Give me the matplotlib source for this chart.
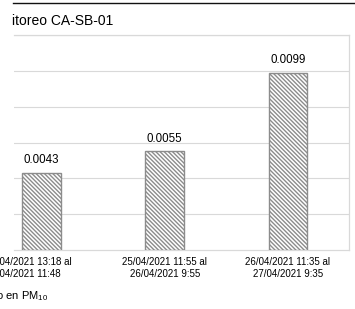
import matplotlib
matplotlib.use('Agg')
import matplotlib.pyplot as plt
from matplotlib.lines import Line2D
from matplotlib.transforms import ScaledTranslation

# data
periods = ['24/04/2021 13:18 al\n25/04/2021 11:48',
           '25/04/2021 11:55 al\n26/04/2021 9:55',
           '26/04/2021 11:35 al\n27/04/2021 9:35']
values = [0.0043, 0.0055, 0.0099]
value_labels = ['0.0043', '0.0055', '0.0099']

plt.rcParams['font.family'] = ['Liberation Sans', 'DejaVu Sans']
plt.rcParams['mathtext.fontset'] = 'custom'
plt.rcParams['mathtext.rm'] = 'Liberation Serif'
plt.rcParams['hatch.linewidth'] = 1.0

fig = plt.figure(figsize=(3.55, 3.09), dpi=100)
W, H = 355, 309
ax = fig.add_axes([14 / W, 1 - 250 / H, 335 / W, 215 / H])

x = list(range(len(values)))
bars = ax.bar(x, values, width=0.316, color='white', edgecolor='#8c8c8c',
              hatch='\\' * 8, linewidth=1.0, zorder=3)

for xi, v, lab in zip(x, values, value_labels):
    ax.annotate(lab, (xi, v), xytext=(0, 5), textcoords='offset points',
                ha='center', va='bottom', fontsize=8.3, color='#000000')

ax.set_ylim(0, 0.012)
ax.set_xlim(-0.223, 2.495)
ax.set_yticks([0.002, 0.004, 0.006, 0.008, 0.010, 0.012])
ax.yaxis.grid(True, color='#d9d9d9', linewidth=0.8, zorder=0)
ax.tick_params(axis='y', left=False, labelleft=False)
ax.set_xticks(x)
ax.set_xticklabels(periods, fontsize=7.0, linespacing=1.3)
ax.tick_params(axis='x', length=0, pad=5)
ax.spines['left'].set_visible(False)
for s in ['top', 'right', 'bottom']:
    ax.spines[s].set_color('#d9d9d9')
    ax.spines[s].set_linewidth(0.9)

# first label is pushed left and left-aligned in the reference
lbl0 = ax.get_xticklabels()[0]
lbl0.set_multialignment('left')
lbl0.set_transform(lbl0.get_transform() + ScaledTranslation(-0.13, 0, fig.dpi_scale_trans))

fig.text(12 / W, 1 - 21 / H, 'itoreo CA-SB-01', fontsize=10, ha='left', va='center')
fig.text(48 / W, 1 - 296 / H, 'Plomo en PM$_{\\mathregular{10}}$', fontsize=8,
         ha='right', va='center')

fig.add_artist(Line2D([13 / W, 1.0], [1 - 3 / H, 1 - 3 / H], color='#111111',
                      linewidth=1.0, transform=fig.transFigure))

fig.savefig('out.png', dpi=100, facecolor='white')
